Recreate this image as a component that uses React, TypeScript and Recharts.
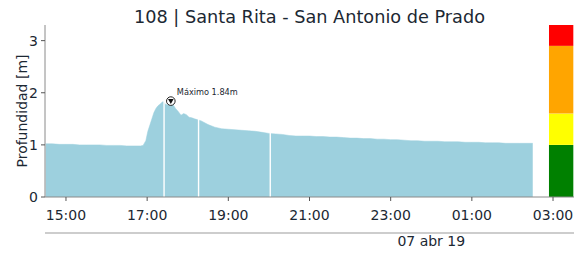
import React from 'react';
import {
  ComposedChart,
  Area,
  XAxis,
  YAxis,
  ReferenceLine,
  ReferenceArea,
  ReferenceDot,
} from 'recharts';

const times = [
  '14:30', '14:40', '14:50', '15:00', '15:10', '15:20', '15:30', '15:40', '15:50',
  '16:00', '16:10', '16:20', '16:30', '16:40', '16:50', '16:54',
  '16:58', '17:01', '17:04', '17:07', '17:10', '17:13', '17:16', '17:19', '17:22',
  '17:24', '17:27', '17:30', '17:33', '17:35', '17:38', '17:42', '17:46', '17:50',
  '17:54', '17:58', '18:02', '18:06', '18:10', '18:15', '18:20', '18:30', '18:40',
  '18:50', '19:00', '19:10', '19:20', '19:30', '19:40', '19:50', '20:00', '20:10',
  '20:20', '20:30', '20:40', '20:50', '21:00', '21:10', '21:20', '21:30', '21:40',
  '21:50', '22:00', '22:10', '22:20', '22:30', '22:40', '22:50', '23:00', '23:10',
  '23:20', '23:30', '23:40', '23:50', '00:00', '00:10', '00:20', '00:30', '00:40',
  '00:50', '01:00', '01:10', '01:20', '01:30', '01:40', '01:50', '02:00', '02:10',
  '02:20', '02:30',
];

const depth = [
  1.02, 1.02, 1.01, 1.01, 1.01, 1.0, 1.0, 1.0, 1.0,
  0.99, 0.99, 0.99, 0.98, 0.98, 0.98, 0.99,
  1.08, 1.26, 1.38, 1.5, 1.62, 1.7, 1.75, 1.78, 1.82,
  1.83, 1.78, 1.77, 1.8, 1.84, 1.78, 1.7, 1.64, 1.57,
  1.6, 1.58, 1.53, 1.52, 1.5, 1.48, 1.46, 1.39, 1.34,
  1.31, 1.3, 1.29, 1.28, 1.27, 1.26, 1.24, 1.22, 1.21,
  1.2, 1.18, 1.17, 1.17, 1.17, 1.16, 1.16, 1.15, 1.15,
  1.14, 1.13, 1.13, 1.12, 1.12, 1.11, 1.11, 1.1, 1.1,
  1.09, 1.08, 1.08, 1.07, 1.07, 1.07, 1.06, 1.06, 1.06,
  1.05, 1.05, 1.05, 1.04, 1.04, 1.04, 1.03, 1.03, 1.03,
  1.03, 1.03,
];

const tickLabels = ['15:00', '17:00', '19:00', '21:00', '23:00', '01:00', '03:00'];
const yTicks = [0, 1, 2, 3];
const dateTick = '00:00';
const dateLabel = '07 abr 19';
const gapTimes = ['17:25', '18:16', '20:02'];
const peakTime = '17:35';
const peakValue = 1.84;
const alertLevels = [0, 1.0, 1.6, 2.9, 3.3];
const alertColors = ['#008000', '#ffff00', '#ffa500', '#ff0000'];
const title = '108 | Santa Rita - San Antonio de Prado';
const yLabel = 'Profundidad [m]';

const toMin = (s: string) => {
  const [h, m] = s.split(':').map(Number);
  return (h < 12 ? h + 24 : h) * 60 + m;
};
const pad = (n: number) => String(n).padStart(2, '0');
const fmt = (v: number) => `${pad(Math.floor(v / 60) % 24)}:${pad(v % 60)}`;

const data = times.map((t, i) => ({ t: toMin(t), depth: depth[i] }));

const FONT = 'DejaVu Sans';
const TEXT = '#1c2833';
const W = 582;
const H = 254;

const PeakMarker = (props: any) => {
  const { cx, cy } = props;
  if (cx == null || cy == null) return null;
  return (
    <g>
      <circle cx={cx} cy={cy} r={4.3} fill="#ffffff" stroke="#222" strokeWidth={1} />
      <path d={`M${cx - 2.8},${cy - 2} L${cx + 2.8},${cy - 2} L${cx},${cy + 2.8} Z`} fill="#111" />
      <text x={cx + 6} y={cy - 6} fontFamily={FONT} fontSize={8.2} fill={TEXT}>
        {`Máximo ${peakValue.toFixed(2)}m`}
      </text>
    </g>
  );
};

export default function App() {
  return (
    <div style={{ position: 'absolute', left: 0, top: 0, width: W, height: H, background: '#fff' }}>
      <div
        style={{
          position: 'absolute',
          left: 45,
          width: 529,
          top: 9,
          textAlign: 'center',
          fontFamily: FONT,
          fontSize: 17.7,
          lineHeight: 1,
          color: TEXT,
          whiteSpace: 'nowrap',
        }}
      >
        {title}
      </div>
      <ComposedChart
        width={W}
        height={H}
        data={data}
        margin={{ top: 25, right: 8, left: 0, bottom: 0 }}
      >
        <XAxis
          dataKey="t"
          type="number"
          domain={[toMin('14:29'), toMin('03:31')]}
          allowDataOverflow
          ticks={tickLabels.map(toMin)}
          tickFormatter={fmt}
          height={36}
          tickSize={4}
          tickMargin={9}
          stroke="#8a8a8a"
          tick={{ fill: TEXT, fontFamily: FONT, fontSize: 14 }}
          axisLine={{ stroke: '#8a8a8a' }}
          tickLine={{ stroke: '#555' }}
        />
        <XAxis
          xAxisId="date"
          dataKey="t"
          type="number"
          domain={[toMin('14:29'), toMin('03:31')]}
          allowDataOverflow
          ticks={[toMin(dateTick)]}
          tickFormatter={() => dateLabel}
          height={21}
          tickSize={0}
          tickMargin={3}
          tick={{ fill: TEXT, fontFamily: FONT, fontSize: 14 }}
          axisLine={{ stroke: '#bdbdbd', strokeWidth: 1.5 }}
          tickLine={false}
        />
        <YAxis
          type="number"
          domain={[0, 3.3]}
          ticks={yTicks}
          width={45}
          tickSize={4}
          tickMargin={3}
          tick={{ fill: TEXT, fontFamily: FONT, fontSize: 14 }}
          axisLine={{ stroke: '#8a8a8a' }}
          tickLine={{ stroke: '#555' }}
          label={{
            content: () => (
              <text
                x={22}
                y={111}
                transform="rotate(-90 22 111)"
                textAnchor="middle"
                dominantBaseline="central"
                fontFamily={FONT}
                fontSize={14}
                fill={TEXT}
              >
                {yLabel}
              </text>
            ),
          }}
        />
        <Area
          dataKey="depth"
          type="linear"
          fill="#9dd0de"
          fillOpacity={1}
          stroke="#9dd0de"
          strokeWidth={0.5}
          baseValue={0}
          isAnimationActive={false}
          dot={false}
          activeDot={false}
        />
        {gapTimes.map((g) => (
          <ReferenceLine key={g} x={toMin(g)} stroke="#ffffff" strokeWidth={1.4} />
        ))}
        {alertColors.map((c, i) => (
          <ReferenceArea
            key={c}
            x1={toMin('02:54')}
            x2={toMin('03:30')}
            y1={alertLevels[i]}
            y2={alertLevels[i + 1]}
            fill={c}
            fillOpacity={1}
            stroke="none"
            ifOverflow="visible"
          />
        ))}
        <ReferenceDot
          x={toMin(peakTime)}
          y={peakValue}
          r={4}
          shape={PeakMarker}
          ifOverflow="visible"
        />
      </ComposedChart>
    </div>
  );
}
